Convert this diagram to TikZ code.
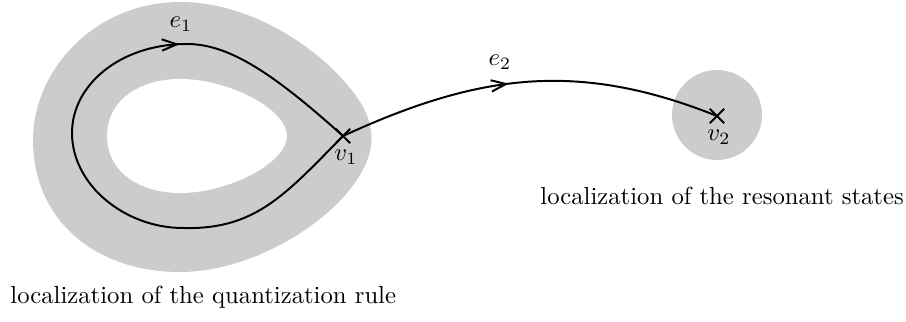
\documentclass[tikz,border=0pt]{standalone}
\usepackage{tikz}
\usetikzlibrary{arrows.meta,shapes.misc,decorations.markings}

\begin{document}
\begin{tikzpicture}[
  x=0.405pt, y=-0.405pt,
  region/.style={fill=black!20, draw=none},
  hole/.style={fill=white, draw=none},
  vertex/.style={cross out, draw, line width=0.8pt, minimum size=5pt, inner sep=0pt},
  edge/.style={line width=0.8pt},
  midarrow/.style={postaction={decorate}, decoration={markings,
    mark=at position #1 with {\arrow{Straight Barb[length=6pt,width=4.6pt,line width=0.8pt]}}}},
  caption/.style={inner sep=0pt, anchor=west}
]
  \useasboundingbox (0,0) rectangle (906,322);

  % shaded regions
  \path[region] (33,140) .. controls (33,70) and (95,2) .. (180,2)
    .. controls (260,2) and (335,60) .. (362,105)
    .. controls (375,128) and (375,150) .. (360,175)
    .. controls (330,225) and (250,272) .. (180,272)
    .. controls (95,272) and (33,220) .. (33,140) -- cycle;
  \path[hole] (107,136) .. controls (107,100) and (140,79) .. (180,79)
    .. controls (230,79) and (287,110) .. (287,136)
    .. controls (287,162) and (230,193) .. (180,193)
    .. controls (140,193) and (107,172) .. (107,136) -- cycle;
  \path[region] (717,115) circle[radius=45];

  % vertices
  \node[vertex] (v1) at (343,136) {};
  \node[vertex] (v2) at (717,116) {};
  \node (v1lab) at (346,157) {$v_1$};
  \node (v2lab) at (719,137) {$v_2$};

  % edges
  \draw[edge, midarrow=0.725] (v1.center) .. controls (285,195) and (255,230) .. (183,228)
    .. controls (125,228) and (72,185) .. (72,133)
    .. controls (72,85) and (120,44) .. (187,44)
    .. controls (230,44) and (275,75) .. (v1.center);
  \draw[edge, midarrow=0.45] (v1.center) .. controls (478,74) and (577,60) .. (v2.center);
  \node (e1) at (181,24) {$e_1$};
  \node (e2) at (500,62) {$e_2$};

  % captions
  \node[caption] (capq) at (10,297) {localization of the quantization rule};
  \node[caption] (capr) at (540,196) {localization of the resonant states};
\end{tikzpicture}
\end{document}
